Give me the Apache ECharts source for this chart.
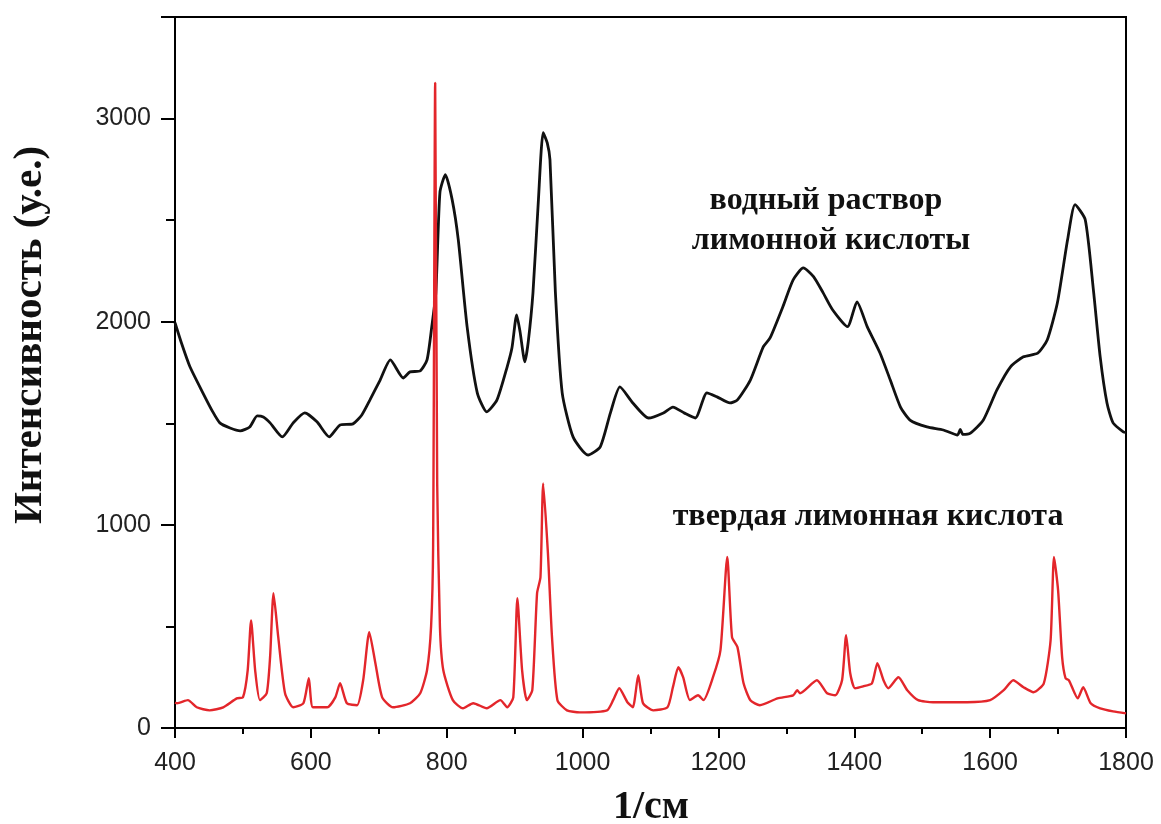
<!DOCTYPE html>
<html>
<head>
<meta charset="utf-8">
<script src="https://cdn.jsdelivr.net/npm/echarts@6/dist/echarts.min.js"></script>
<style>
  html, body { margin: 0; padding: 0; background: #fff; }
  #chart { width: 1161px; height: 824px; }
</style>
</head>
<body>
<div id="chart"></div>
<script>
// Raman spectrum of aqueous citric acid solution (black)
const waveAqueous = [400,410,422,441,455,466,481,496,510,521,530,540,558,574,591,609,627,643,662,675,687,702,717,736,746,761,771,778,784,790,798,808,817,830,845,859,874,889,896,903,908,915,920,927,935,942,948,952,960,970,986,1008,1026,1041,1055,1074,1097,1119,1133,1150,1166,1183,1198,1217,1228,1247,1266,1276,1295,1310,1325,1340,1354,1368,1390,1404,1419,1438,1453,1468,1482,1507,1531,1552,1556,1560,1571,1590,1610,1630,1649,1670,1684,1699,1714,1725,1740,1752,1762,1772,1781,1796,1800];
const intensityAqueous = [1995,1890,1778,1650,1560,1502,1477,1463,1482,1536,1531,1502,1433,1502,1551,1507,1433,1492,1497,1541,1615,1713,1812,1723,1753,1758,1812,1975,2143,2636,2724,2601,2404,1976,1650,1556,1615,1778,1870,2034,1950,1802,1900,2143,2600,2931,2880,2798,2143,1650,1433,1344,1384,1551,1679,1600,1526,1551,1580,1550,1526,1650,1630,1600,1615,1713,1876,1920,2075,2206,2265,2222,2143,2059,1976,2098,1976,1845,1713,1580,1516,1482,1467,1442,1470,1445,1452,1516,1664,1778,1827,1845,1910,2093,2403,2576,2502,2157,1827,1600,1502,1458,1455];

// Raman spectrum of solid citric acid (red)
const waveSolid = [400,403,419,432,451,471,491,500,507,512,518,525,535,540,545,552,562,574,589,597,603,624,636,643,653,668,677,686,695,705,721,746,761,771,777,780,783,786,790,795,809,824,839,859,879,889,898,904,911,918,926,933,938,942,949,955,963,977,996,1036,1045,1054,1066,1074,1082,1089,1104,1125,1133,1141,1148,1158,1170,1178,1192,1203,1213,1220,1228,1237,1247,1261,1287,1310,1316,1320,1345,1360,1372,1382,1388,1394,1401,1413,1426,1434,1443,1450,1465,1478,1494,1516,1566,1600,1620,1634,1649,1664,1679,1689,1694,1700,1706,1711,1716,1729,1737,1748,1762,1781,1800];
const intensitySolid = [125,122,137,102,87,102,146,151,284,530,284,137,171,350,663,447,171,102,122,245,102,102,151,220,122,112,235,472,319,151,102,122,171,284,500,900,3175,1200,500,284,137,97,122,97,137,102,151,639,284,137,186,663,742,1204,860,447,137,87,77,87,137,196,127,102,260,122,87,102,201,299,250,137,161,137,250,383,842,447,398,220,137,112,146,161,186,171,235,171,161,235,457,270,196,205,220,319,235,196,250,186,137,127,127,137,186,235,201,176,220,432,842,679,348,245,235,146,201,122,97,82,72];

// Axis ticks
const xTicks = [400, 600, 800, 1000, 1200, 1400, 1600, 1800];
const yTicks = [0, 1000, 2000, 3000];

const xAxisTitle = '1/см';
const yAxisTitle = 'Интенсивность (у.е.)';
const labelAqueous = ['водный раствор', 'лимонной кислоты'];
const labelSolid = 'твердая лимонная кислота';

const zip = (xs, ys) => xs.map((x, i) => [x, ys[i]]);

const chart = echarts.init(document.getElementById('chart'), null, { renderer: 'canvas' });

const serif = '"Liberation Serif", "DejaVu Serif", serif';
const annotationFont = 'bold 32px ' + serif;
const tickFont = { fontFamily: '"Liberation Sans", Arial, sans-serif', fontSize: 25, color: '#222' };

chart.setOption({
  animation: false,
  backgroundColor: '#fff',
  grid: {
    left: 175, right: 35, top: 17, bottom: 96,
    show: true, borderColor: '#000', borderWidth: 2, backgroundColor: 'transparent'
  },
  xAxis: [{
    type: 'value',
    min: xTicks[0], max: xTicks[xTicks.length - 1], interval: 200,
    axisLine: { lineStyle: { color: '#000', width: 2 } },
    axisTick: { length: 10, lineStyle: { color: '#000', width: 2 } },
    minorTick: { show: true, splitNumber: 2, length: 6, lineStyle: { color: '#000', width: 2 } },
    splitLine: { show: false },
    axisLabel: Object.assign({ margin: 23, formatter: v => String(v) }, tickFont)
  }],
  yAxis: [{
    type: 'value',
    min: 0, max: 3500, interval: 1000,
    axisLine: { show: true, lineStyle: { color: '#000', width: 2 } },
    axisTick: { show: true, length: 14, lineStyle: { color: '#000', width: 2 } },
    splitLine: { show: false },
    axisLabel: Object.assign({
      margin: 24,
      formatter: v => (yTicks.indexOf(v) >= 0 ? String(v) : '')
    }, tickFont)
  }, {
    type: 'value',
    min: 0, max: 3500, interval: 500,
    position: 'left',
    axisLine: { show: false },
    axisTick: { show: true, length: 9, lineStyle: { color: '#000', width: 2 } },
    splitLine: { show: false },
    axisLabel: { show: false }
  }],
  series: [{
    name: labelAqueous.join(' '),
    type: 'line',
    yAxisIndex: 0,
    data: zip(waveAqueous, intensityAqueous),
    showSymbol: false,
    smooth: 0.2,
    lineStyle: { color: '#111', width: 2.8 },
    z: 2
  }, {
    name: labelSolid,
    type: 'line',
    yAxisIndex: 0,
    data: zip(waveSolid, intensitySolid),
    showSymbol: false,
    smooth: 0.2,
    lineStyle: { color: '#e3262b', width: 2.4 },
    z: 3
  }],
  graphic: [{
    type: 'text', x: 30, y: 335, rotation: Math.PI / 2,
    style: { text: yAxisTitle, font: 'bold 41px ' + serif, fill: '#111', align: 'center', verticalAlign: 'middle' }
  }, {
    type: 'text', x: 651, y: 808,
    style: { text: xAxisTitle, font: 'bold 40px ' + serif, fill: '#111', align: 'center', verticalAlign: 'middle' }
  }, {
    type: 'text', x: 826, y: 201,
    style: { text: labelAqueous[0], font: annotationFont, fill: '#111', align: 'center', verticalAlign: 'middle' }
  }, {
    type: 'text', x: 831, y: 241,
    style: { text: labelAqueous[1], font: annotationFont, fill: '#111', align: 'center', verticalAlign: 'middle' }
  }, {
    type: 'text', x: 868, y: 517,
    style: { text: labelSolid, font: annotationFont, fill: '#111', align: 'center', verticalAlign: 'middle' }
  }]
});
</script>
</body>
</html>
